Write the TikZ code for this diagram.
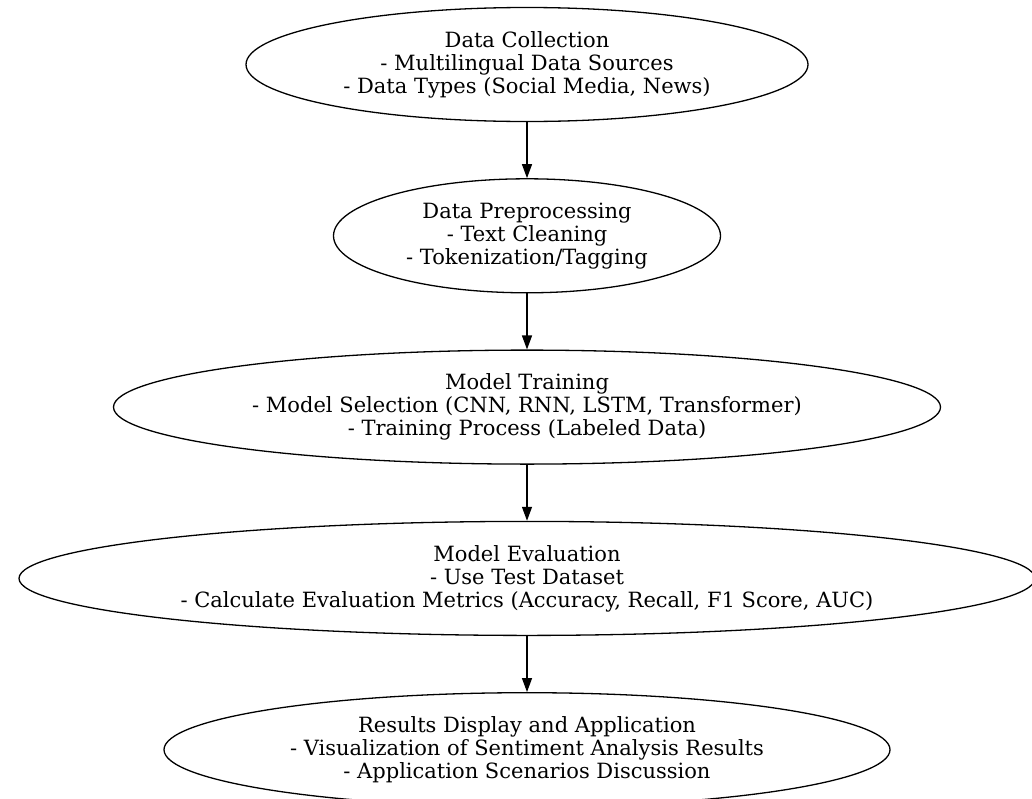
\documentclass[tikz,border=0pt]{standalone}
\usepackage{fontspec}
\setmainfont{DejaVu Serif}
\usepackage{tikz}
\usetikzlibrary{arrows.meta,positioning,shapes.geometric}

\begin{document}
\begin{tikzpicture}[x=1pt,y=1pt,
    stage/.style={ellipse,draw,line width=1.3pt,inner sep=0pt,minimum height=114pt,
      align=center,font=\fontsize{21}{23}\selectfont},
    flow/.style={line width=1.3pt,-{Triangle[length=14pt,width=10pt]}},
    node distance=56pt]
  \useasboundingbox (0,0) rectangle (1032,-798);
  \node[stage,minimum width=562pt] (collect) at (527,-64.5) {Data Collection\\- Multilingual Data Sources\\- Data Types (Social Media, News)};
  \node[stage,minimum width=387pt,below=of collect] (prep) {Data Preprocessing\\- Text Cleaning\\- Tokenization/Tagging};
  \node[stage,minimum width=827pt,below=of prep] (train) {Model Training\\- Model Selection (CNN, RNN, LSTM, Transformer)\\- Training Process (Labeled Data)};
  \node[stage,minimum width=1016pt,below=of train] (eval) {Model Evaluation\\- Use Test Dataset\\- Calculate Evaluation Metrics (Accuracy, Recall, F1 Score, AUC)};
  \node[stage,minimum width=726pt,below=of eval] (result) {Results Display and Application\\- Visualization of Sentiment Analysis Results\\- Application Scenarios Discussion};
  \draw[flow] (collect) -- (prep);
  \draw[flow] (prep) -- (train);
  \draw[flow] (train) -- (eval);
  \draw[flow] (eval) -- (result);
\end{tikzpicture}
\end{document}
